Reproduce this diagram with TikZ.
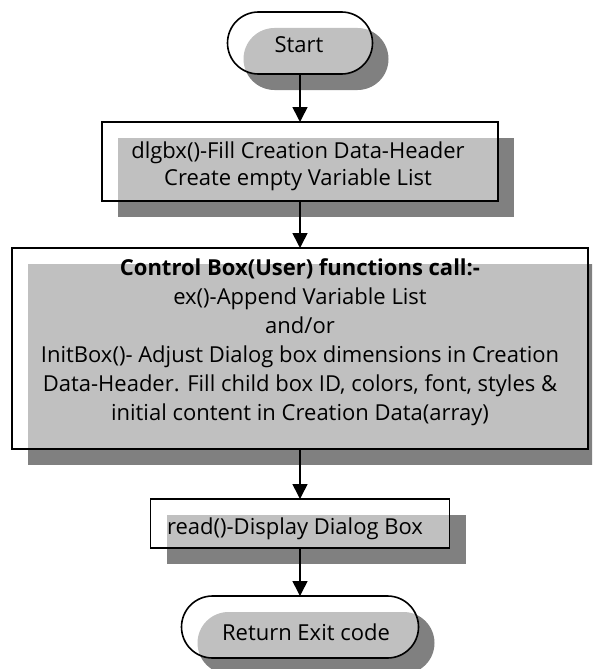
\documentclass[tikz,border=0pt]{standalone}
\usepackage{fontspec}
\setmainfont{Open Sans}
\usetikzlibrary{arrows.meta,shadows}
\definecolor{shadelight}{HTML}{C0C0C0}
\definecolor{shadedark}{HTML}{808080}
\tikzset{
  % outlined step box with a two-tone offset shadow
  rectbox/.style={draw=black, line width=1.6pt, fill=white, outer sep=0pt, inner sep=0pt,
    sharp corners,
    general shadow={shadow xshift=16pt, shadow yshift=-16pt, fill=shadedark},
    path picture={\fill[shadelight, sharp corners]
      ([shift={(16pt,-16pt)}]path picture bounding box.south west) rectangle
      ([shift={(16pt,-16pt)}]path picture bounding box.north east);}},
  % start / end terminator
  termbox/.style={draw=black, line width=1.6pt, fill=white, outer sep=0pt, inner sep=0pt,
    rounded corners=31pt,
    general shadow={shadow xshift=16pt, shadow yshift=-16pt, fill=shadedark},
    path picture={\fill[shadelight, rounded corners=31pt]
      ([shift={(16pt,-16pt)}]path picture bounding box.south west) rectangle
      ([shift={(16pt,-16pt)}]path picture bounding box.north east);}},
  boxtext/.style={inner sep=0pt, align=center, font=\fontsize{22}{27}\selectfont},
  flowarrow/.style={line width=1.6pt, -{Triangle[length=15pt,width=15pt]}},
}
\begin{document}
\begin{tikzpicture}[x=1pt, y=-1pt]
\useasboundingbox (0,0) rectangle (592,669);
\clip (0,0) rectangle (592,669);

\node[termbox, minimum width=145pt, minimum height=62pt] (start) at (300,43) {};
\node[boxtext] (tstart) at (299,45) {Start};

\node[rectbox, minimum width=396pt, minimum height=79pt] (fill) at (300,161.5) {};
\node[boxtext] (tfill) at (298,166) {dlgbx()-Fill Creation Data-Header\\Create empty Variable List};

\node[rectbox, minimum width=576pt, minimum height=201pt] (calls) at (300,348.5) {};
\node[boxtext, font=\fontsize{22}{29}\selectfont] (tcalls) at (300,342)
  {\textbf{Control Box(User) functions call:-}\\
   ex()-Append Variable List\\
   and/or\\
   InitBox()- Adjust Dialog box dimensions in Creation\\
   Data-Header. Fill child box ID, colors, font, styles \&\\
   initial content in Creation Data(array)};

\node[rectbox, minimum width=299pt, minimum height=49pt] (show) at (300,523.5) {};
\node[boxtext] (tshow) at (295,529) {read()-Display Dialog Box};

\node[termbox, minimum width=237pt, minimum height=62pt] (exit) at (300,627) {};
\node[boxtext] (texit) at (306,632) {Return Exit code};

\draw[flowarrow] (start) -- (fill);
\draw[flowarrow] (fill) -- (calls);
\draw[flowarrow] (calls) -- (show);
\draw[flowarrow] (show) -- (exit);
\end{tikzpicture}
\end{document}
